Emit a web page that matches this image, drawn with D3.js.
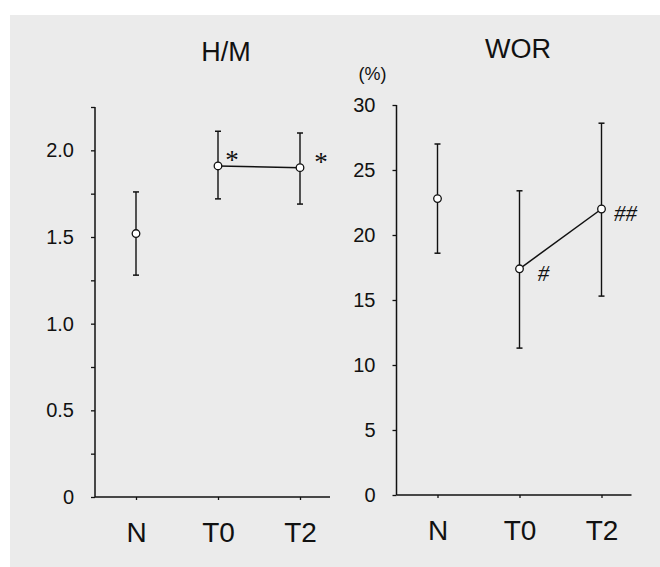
<!DOCTYPE html>
<html>
<head>
<meta charset="utf-8">
<script src="https://cdn.jsdelivr.net/npm/d3@7"></script>
<style>
  body { margin: 0; background: #fff; }
  svg { display: block; }
</style>
</head>
<body>
<div id="chart"></div>
<script>
// categories on the x axis (same for both panels)
var categories = ["N", "T0", "T2"];

// H/M panel: mean, upper and lower end of the error bar
var hmMean  = [1.52, 1.91, 1.90];
var hmUpper = [1.76, 2.11, 2.10];
var hmLower = [1.28, 1.72, 1.69];
var hmMarks = ["", "*", "*"];
var hmTickValues = [0, 0.5, 1.0, 1.5, 2.0];
var hmTickLabels = ["0", "0.5", "1.0", "1.5", "2.0"];
var hmMinorTicks = [0.25, 0.75, 1.25, 1.75, 2.25];

// WOR panel (%)
var worMean  = [22.8, 17.4, 22.0];
var worUpper = [27.0, 23.4, 28.6];
var worLower = [18.6, 11.3, 15.3];
var worMarks = ["", "#", "##"];
var worTickValues = [0, 5, 10, 15, 20, 25, 30];
var worTickLabels = ["0", "5", "10", "15", "20", "25", "30"];

// which points are joined by the line
var joined = ["T0", "T2"];

var W = 660, H = 567;
var ink = "#111";

var svg = d3.select("#chart")
  .append("svg")
    .attr("width", W)
    .attr("height", H)

svg.append("rect")
  .attr("x", 10).attr("y", 15)
  .attr("width", W - 10).attr("height", H - 15)
  .attr("fill", "#ebebeb")

function drawPanel(p) {
  var g = svg.append("g")

  var y = d3.scaleLinear()
    .domain(p.domain)
    .range([p.bottom, p.top])

  var x = d3.scalePoint()
    .domain(categories)
    .range([p.axisX + 41, p.axisX + 205])

  // y axis: all ticks, labels only on the labelled values
  var allTicks = p.tickValues.concat(p.minorTicks || []).sort(d3.ascending)
  var yAxis = g.append("g")
    .attr("transform", "translate(" + p.axisX + ",0)")
    .call(d3.axisLeft(y)
      .tickValues(allTicks)
      .tickSize(4)
      .tickPadding(17)
      .tickFormat(function (d) {
        var i = p.tickValues.indexOf(d);
        return i < 0 ? "" : p.tickLabels[i];
      }))
  yAxis.select(".domain").remove()
  yAxis.append("line")
    .attr("y1", y(p.domain[0])).attr("y2", y(p.domain[1]))
    .attr("stroke", ink).attr("stroke-width", 1.5)
  yAxis.selectAll(".tick line").attr("stroke", ink).attr("stroke-width", 1.3)
  yAxis.selectAll(".tick text")
    .attr("fill", ink)
    .style("font-family", "Liberation Sans, Arial, sans-serif")
    .style("font-size", "20px")

  // x axis
  var xAxis = g.append("g")
    .attr("transform", "translate(0," + p.bottom + ")")
    .call(d3.axisBottom(x).tickSize(3).tickPadding(12))
  xAxis.select(".domain").remove()
  xAxis.append("line")
    .attr("x1", p.axisX).attr("x2", p.axisX + 235)
    .attr("stroke", ink).attr("stroke-width", 1.5)
  xAxis.selectAll(".tick line").attr("stroke", ink).attr("stroke-width", 1.3)
  xAxis.selectAll(".tick text")
    .attr("fill", ink)
    .attr("dy", null)
    .attr("y", 45)
    .style("font-family", "Liberation Sans, Arial, sans-serif")
    .style("font-size", "28px")

  var data = categories.map(function (c, i) {
    return { cat: c, mean: p.mean[i], hi: p.upper[i], lo: p.lower[i], mark: p.marks[i], i: i };
  })

  // error bars
  var bars = g.append("g").selectAll("g.err")
    .data(data)
    .enter()
    .append("g")
  bars.append("line")
    .attr("x1", function (d) { return x(d.cat); })
    .attr("x2", function (d) { return x(d.cat); })
    .attr("y1", function (d) { return y(d.lo); })
    .attr("y2", function (d) { return y(d.hi); })
    .attr("stroke", ink).attr("stroke-width", 1.4)
  ;["hi", "lo"].forEach(function (k) {
    bars.append("line")
      .attr("x1", function (d) { return x(d.cat) - 3; })
      .attr("x2", function (d) { return x(d.cat) + 3; })
      .attr("y1", function (d) { return y(d[k]); })
      .attr("y2", function (d) { return y(d[k]); })
      .attr("stroke", ink).attr("stroke-width", 1.5)
  })

  // connecting line
  var lineData = data.filter(function (d) { return joined.indexOf(d.cat) >= 0; })
  g.append("path")
    .datum(lineData)
    .attr("fill", "none")
    .attr("stroke", ink)
    .attr("stroke-width", 1.5)
    .attr("d", d3.line()
      .x(function (d) { return x(d.cat); })
      .y(function (d) { return y(d.mean); }))

  // points
  g.append("g").selectAll("circle")
    .data(data)
    .enter()
    .append("circle")
      .attr("cx", function (d) { return x(d.cat); })
      .attr("cy", function (d) { return y(d.mean); })
      .attr("r", 3.8)
      .attr("fill", "#fff")
      .attr("stroke", ink)
      .attr("stroke-width", 1.3)

  // significance marks
  g.append("g").selectAll("text")
    .data(data.filter(function (d) { return d.mark; }))
    .enter()
    .append("text")
      .attr("x", function (d) { return x(d.cat) + p.markDx[d.i]; })
      .attr("y", function (d) { return y(d.mean) + p.markDy; })
      .attr("text-anchor", "middle")
      .attr("fill", ink)
      .style("font-family", "Liberation Serif, Times New Roman, serif")
      .style("font-style", p.markItalic ? "italic" : "normal")
      .style("font-size", p.markSize + "px")
      .text(function (d) { return d.mark; })

  // title
  g.append("text")
    .attr("x", p.titleX)
    .attr("y", p.titleY)
    .attr("text-anchor", "middle")
    .attr("fill", ink)
    .style("font-family", "Liberation Sans, Arial, sans-serif")
    .style("font-size", "27px")
    .text(p.title)

  if (p.unit) {
    g.append("text")
      .attr("x", p.axisX - 24)
      .attr("y", p.top - 25)
      .attr("text-anchor", "middle")
      .attr("fill", ink)
      .style("font-family", "Liberation Sans, Arial, sans-serif")
      .style("font-size", "18px")
      .text(p.unit)
  }
}

drawPanel({
  title: "H/M", titleX: 226, titleY: 61,
  axisX: 95, top: 107, bottom: 497,
  domain: [0, 2.25],
  tickValues: hmTickValues, tickLabels: hmTickLabels, minorTicks: hmMinorTicks,
  mean: hmMean, upper: hmUpper, lower: hmLower, marks: hmMarks,
  markDx: [0, 14, 21], markDy: 3, markSize: 27, markItalic: false
})

drawPanel({
  title: "WOR", titleX: 518, titleY: 58, unit: "(%)",
  axisX: 396.5, top: 105, bottom: 495,
  domain: [0, 30],
  tickValues: worTickValues, tickLabels: worTickLabels,
  mean: worMean, upper: worUpper, lower: worLower, marks: worMarks,
  markDx: [0, 24, 24], markDy: 12, markSize: 23, markItalic: true
})
</script>
</body>
</html>
